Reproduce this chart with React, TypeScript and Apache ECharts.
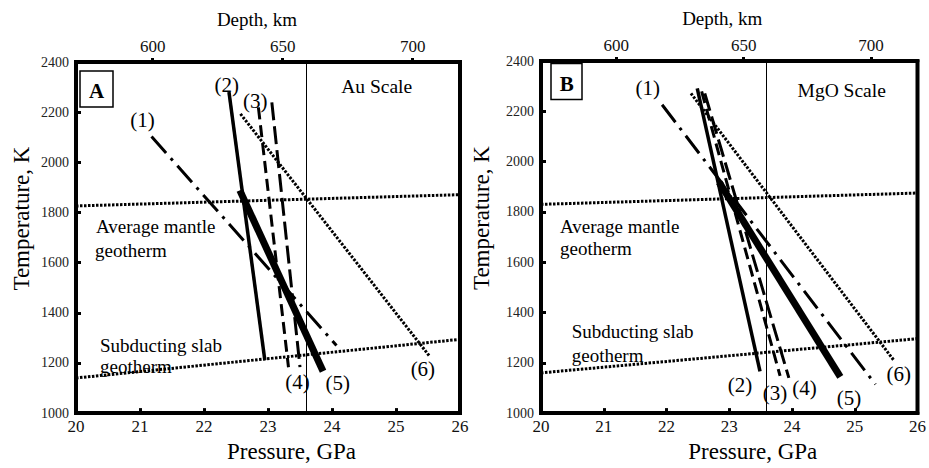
import React, { useEffect, useRef } from "react";
import * as echarts from "echarts";

// ---- data (pressure GPa, temperature K) ----
const lineLabels = ["(1)", "(2)", "(3)", "(4)", "(5)", "(6)"];

const auLines: number[][][] = [
  [[21.18, 2103], [24.07, 1270]],
  [[22.39, 2280], [22.95, 1212]],
  [[22.85, 2219], [23.32, 1183]],
  [[23.06, 2239], [23.5, 1183]],
  [[22.56, 1888], [23.86, 1167]],
  [[22.57, 2193], [25.53, 1225]],
];
const mgoLines: number[][][] = [
  [[21.93, 2226], [25.33, 1114]],
  [[22.49, 2291], [23.49, 1166]],
  [[22.56, 2279], [23.81, 1148]],
  [[22.61, 2271], [23.95, 1140]],
  [[22.84, 1917], [24.77, 1144]],
  [[22.39, 2271], [25.62, 1211]],
];

const auMantle = [[20, 1826], [26, 1871]];
const auSlab = [[20, 1140], [26, 1294]];
const mgoMantle = [[20, 1830], [26, 1875]];
const mgoSlab = [[20, 1160], [26, 1296]];

const auLabelPos = [[21.04, 2167], [22.355, 2310], [22.8, 2245], [23.46, 1124], [24.09, 1121], [25.42, 1177]];
const mgoLabelPos = [[21.7, 2291], [23.17, 1111], [23.73, 1079], [24.2, 1098], [24.91, 1059], [25.7, 1157]];

const boundaryP = 23.59;
const depthTicks = [600, 650, 700];
const pressureRange = [20, 26];
const tempRange = [1000, 2400];
const depthRange = [570.5, 718.2];

const FONT = "Liberation Serif";

const lineStyles = [
  { width: 3, type: [22, 7, 3, 7] },
  { width: 3.5, type: "solid" },
  { width: 3, type: [12, 6] },
  { width: 3, type: [18, 6] },
  { width: 7, type: "solid" },
  { width: 3, type: [2.5, 1.5] },
];

function panelSeries(lines: number[][][], mantle: number[][], slab: number[][], labelPos: number[][], xi: number, yi: number) {
  const s: any[] = [];
  lines.forEach((d, i) => {
    s.push({
      type: "line",
      xAxisIndex: xi,
      yAxisIndex: yi,
      data: d,
      symbol: "none",
      lineStyle: { color: "#000", width: lineStyles[i].width, type: lineStyles[i].type as any, cap: "butt" },
      z: 3,
    });
  });
  s.push({
    type: "line",
    xAxisIndex: xi,
    yAxisIndex: yi,
    data: mantle,
    symbol: "none",
    lineStyle: { color: "#000", width: 3, type: [2.5, 1.5] },
    markLine: {
      silent: true,
      symbol: "none",
      label: { show: false },
      lineStyle: { color: "#000", width: 1, type: "solid" },
      data: [{ xAxis: boundaryP }],
    },
  });
  s.push({
    type: "line",
    xAxisIndex: xi,
    yAxisIndex: yi,
    data: slab,
    symbol: "none",
    lineStyle: { color: "#000", width: 3, type: [2.5, 1.5] },
  });
  s.push({
    type: "scatter",
    xAxisIndex: xi,
    yAxisIndex: yi,
    symbolSize: 0,
    itemStyle: { color: "#000", opacity: 1 },
    data: labelPos.map((p, i) => ({ value: p, name: lineLabels[i] })),
    label: {
      show: true,
      position: "inside",
      formatter: "{b}",
      fontFamily: FONT,
      fontSize: 21,
      color: "#000",
      opacity: 1,
      textBorderWidth: 0,
    },
    z: 5,
  });
  return s;
}

function pressureAxis(gi: number, padLeft: number) {
  return {
    gridIndex: gi,
    type: "value",
    position: "bottom",
    min: pressureRange[0],
    max: pressureRange[1],
    interval: 1,
    axisLine: { show: true, lineStyle: { color: "#000", width: 4 } },
    axisTick: { inside: true, length: 5, lineStyle: { color: "#000", width: 3 } },
    axisLabel: { margin: 5, fontFamily: FONT, fontSize: 17, color: "#111" },
    splitLine: { show: false },
    name: "Pressure, GPa",
    nameLocation: "middle",
    nameGap: 20,
    nameTextStyle: { fontFamily: FONT, fontSize: 23, color: "#000", padding: [0, 0, 0, padLeft] },
  };
}
function depthAxis(gi: number, padRight: number) {
  return {
    gridIndex: gi,
    type: "value",
    position: "top",
    min: depthRange[0],
    max: depthRange[1],
    axisLine: { show: true, lineStyle: { color: "#000", width: 4 } },
    axisTick: { customValues: depthTicks, inside: false, length: 4, lineStyle: { color: "#000", width: 3 } },
    axisLabel: { customValues: depthTicks, margin: 7, fontFamily: FONT, fontSize: 17, color: "#111" },
    splitLine: { show: false },
    name: "Depth, km",
    nameLocation: "middle",
    nameGap: 33,
    nameTextStyle: { fontFamily: FONT, fontSize: 19, color: "#000", padding: [0, padRight, 0, 0] },
  };
}
function tempAxis(gi: number, gap: number) {
  return {
    gridIndex: gi,
    type: "value",
    position: "left",
    min: tempRange[0],
    max: tempRange[1],
    interval: 200,
    axisLine: { show: true, lineStyle: { color: "#000", width: 4 } },
    axisTick: { inside: true, length: 5, lineStyle: { color: "#000", width: 3 } },
    axisLabel: { margin: 7, fontFamily: FONT, fontSize: 14, color: "#222", formatter: (v: number) => String(v) },
    splitLine: { show: false },
    name: "Temperature, K",
    nameLocation: "middle",
    nameGap: gap,
    nameTextStyle: { fontFamily: FONT, fontSize: 23, color: "#000", padding: [0, 0, 0, 38] },
  };
}

function txt(text: string, x: number, y: number, size: number, align = "left", bold = false) {
  return {
    type: "text",
    x,
    y,
    z: 10,
    style: {
      text,
      fill: "#000",
      fontFamily: FONT,
      fontSize: size,
      fontWeight: bold ? "bold" : "normal",
      align,
      verticalAlign: "middle",
    },
  };
}

export default function App() {
  const ref = useRef<HTMLDivElement>(null);
  useEffect(() => {
    document.body.style.margin = "0";
    if (!ref.current) return;
    const chart = echarts.init(ref.current, null, { renderer: "svg" });
    chart.setOption({
      animation: false,
      backgroundColor: "#fff",
      grid: [
        { left: 76, top: 62, width: 384, height: 359, show: true, borderColor: "#000", borderWidth: 4 },
        { left: 541, top: 61, width: 380, height: 360, show: true, borderColor: "#000", borderWidth: 4 },
      ],
      xAxis: [pressureAxis(0, 47), depthAxis(0, 22), pressureAxis(1, 47), depthAxis(1, 14)],
      yAxis: [tempAxis(0, 43), tempAxis(1, 48)],
      series: [
        ...panelSeries(auLines, auMantle, auSlab, auLabelPos, 0, 0),
        ...panelSeries(mgoLines, mgoMantle, mgoSlab, mgoLabelPos, 2, 1),
      ],
      graphic: [
        { type: "rect", z: 10, shape: { x: 80, y: 71, width: 33, height: 36 }, style: { fill: "#fff", stroke: "#000", lineWidth: 1.5 } },
        txt("A", 96.7, 91, 21, "center", true),
        { type: "rect", z: 10, shape: { x: 551, y: 63.5, width: 31, height: 36 }, style: { fill: "#fff", stroke: "#000", lineWidth: 1.5 } },
        txt("B", 566.7, 83.5, 21, "center", true),
        txt("Au Scale", 376.7, 86.7, 19.5, "center"),
        txt("MgO Scale", 841.7, 90, 19.5, "center"),
        txt("Average mantle", 96, 226.7, 19),
        txt("geotherm", 95, 250, 19),
        txt("Subducting slab", 100, 345, 19),
        txt("geotherm", 100, 366.7, 19),
        txt("Average mantle", 560, 226.7, 19),
        txt("geotherm", 560, 248.3, 19),
        txt("Subducting slab", 571.7, 331.7, 19),
        txt("geotherm", 571.7, 355, 19),
      ],
    });
    return () => chart.dispose();
  }, []);
  return <div ref={ref} style={{ width: 929, height: 468 }} />;
}
